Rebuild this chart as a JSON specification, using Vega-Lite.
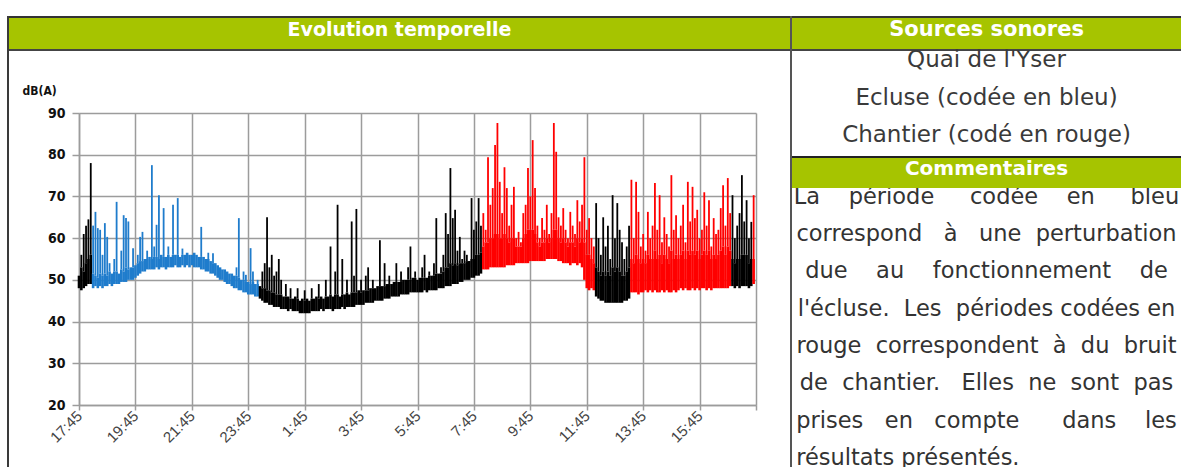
{
"$schema":"https://vega.github.io/schema/vega-lite/v6.json",
"padding":{"left":7,"top":11,"right":0,"bottom":0},
"background":"white",
"spacing":0,
"bounds":"full",
"config":{
 "view":{"stroke":null},
 "axisX":{"grid":true,"gridColor":"#9c9c9c","gridWidth":1.5,"domainColor":"#9c9c9c","domainWidth":1.5,"tickColor":"#9c9c9c","tickWidth":1.5,"tickSize":5,"labelFont":"Liberation Sans","labelFontSize":15,"labelColor":"#444444","labelAngle":-45,"labelAlign":"right","labelBaseline":"middle","labelPadding":3,"labelFlush":false,"labelOverlap":false},
 "axisY":{"grid":true,"gridColor":"#9c9c9c","gridWidth":1.5,"domainColor":"#9c9c9c","domainWidth":1.5,"tickColor":"#9c9c9c","tickWidth":1.5,"tickSize":7,"labelFont":"'Liberation Sans Narrow','DejaVu Sans Condensed','Liberation Sans'","labelFontWeight":"bold","labelFontSize":14,"labelColor":"#111111","labelPadding":7,"titleFont":"'Liberation Sans Narrow','DejaVu Sans Condensed','Liberation Sans'","titleFontWeight":"bold","titleFontSize":12,"titleColor":"#111111","titleAngle":0,"titleAlign":"left","titleBaseline":"middle","titleX":-57,"titleY":-23}
},
"hconcat":[
 {"width":2,"height":456,"data":{"values":[{}]},"mark":"text","view":{"fill":"#3a3a3a"}},
 {"spacing":0,"bounds":"flush","vconcat":[
   {"width":781,"height":2,"data":{"values":[{}]},"mark":"text","view":{"fill":"#333333"}},
   {"width":781,"height":31,"data":{"values":[{"t":"Evolution temporelle"}]},"view":{"fill":"#a6c400"},
    "mark":{"type":"text","color":"white","font":"DejaVu Sans","fontWeight":"bold","fontSize":19,"dy":-4},
    "encoding":{"text":{"field":"t"}}},
   {"width":781,"height":2,"data":{"values":[{}]},"mark":"text","view":{"fill":"#444444"}},
   {"width":781,"height":62,"data":{"values":[{}]},"mark":"text"},
   {"spacing":0,"bounds":"flush","hconcat":[
     {"width":70,"height":1,"data":{"values":[{}]},"mark":"text"},
     {"width":677,"height":292,
        "data":{"values":[
{"i":0,"l":48,"h":51,"s":"n"},{"i":1,"l":47.5,"h":53,"p":56,"s":"n"},{"i":2,"l":48,"h":52,"p":61,"s":"n"},{"i":3,"l":48.5,"h":54,"p":63,"s":"n"},{"i":4,"l":49,"h":55,"p":64.5,"s":"n"},{"i":5,"l":49,"h":56,"p":78,"s":"n"},
{"i":6,"l":48,"h":51.5,"p":63,"s":"e"},{"i":7,"l":48.5,"h":51,"p":66.3,"s":"e"},{"i":8,"l":48,"h":50.5,"p":62.4,"s":"e"},{"i":9,"l":48.5,"h":51.5,"p":62,"s":"e"},{"i":10,"l":48,"h":51,"p":56,"s":"e"},{"i":11,"l":48.5,"h":51.5,"p":63.6,"s":"e"},{"i":12,"l":48.5,"h":51,"p":60.3,"s":"e"},{"i":13,"l":49,"h":52,"p":54,"s":"e"},{"i":14,"l":48.5,"h":51.5,"s":"e"},{"i":15,"l":49,"h":52,"p":55,"s":"e"},
{"i":16,"l":49,"h":52,"p":68.7,"s":"e"},{"i":17,"l":49,"h":51.5,"s":"e"},{"i":18,"l":49.5,"h":52.5,"p":57,"s":"e"},{"i":19,"l":49.5,"h":52,"p":65.5,"s":"e"},{"i":20,"l":49.5,"h":53,"p":64.8,"s":"e"},{"i":21,"l":50,"h":52.5,"p":64,"s":"e"},{"i":22,"l":50,"h":53,"s":"e"},{"i":23,"l":50,"h":53,"p":57.6,"s":"e"},{"i":24,"l":50.5,"h":53.5,"s":"e"},{"i":25,"l":51,"h":54,"p":56,"s":"e"},
{"i":26,"l":51.5,"h":54.5,"p":60.3,"s":"e"},{"i":27,"l":52,"h":54.5,"p":61.5,"s":"e"},{"i":28,"l":52,"h":55,"s":"e"},{"i":29,"l":52.5,"h":55,"p":57,"s":"e"},{"i":30,"l":52.5,"h":55.5,"s":"e"},{"i":31,"l":52.5,"h":55,"p":77.5,"s":"e"},{"i":32,"l":52.5,"h":55.5,"p":58,"s":"e"},{"i":33,"l":53,"h":55.5,"p":63.2,"s":"e"},{"i":34,"l":52.5,"h":55,"p":70.3,"s":"e"},{"i":35,"l":53,"h":56,"s":"e"},
{"i":36,"l":53,"h":55.5,"p":67.2,"s":"e"},{"i":37,"l":52.5,"h":55.5,"s":"e"},{"i":38,"l":53,"h":56,"p":58,"s":"e"},{"i":39,"l":53,"h":55.5,"s":"e"},{"i":40,"l":53,"h":56,"p":68,"s":"e"},{"i":41,"l":53.5,"h":56,"s":"e"},{"i":42,"l":53,"h":56,"p":69.6,"s":"e"},{"i":43,"l":53,"h":55.5,"s":"e"},{"i":44,"l":53.5,"h":56,"p":57.5,"s":"e"},{"i":45,"l":53,"h":56,"s":"e"},
{"i":46,"l":53.5,"h":56.5,"s":"e"},{"i":47,"l":53,"h":56,"s":"e"},{"i":48,"l":53.5,"h":56,"s":"e"},{"i":49,"l":53,"h":56.5,"s":"e"},{"i":50,"l":53,"h":56,"s":"e"},{"i":51,"l":53,"h":55.5,"s":"e"},{"i":52,"l":52.5,"h":55.5,"p":62.7,"s":"e"},{"i":53,"l":52.5,"h":55.5,"s":"e"},{"i":54,"l":52,"h":55,"s":"e"},{"i":55,"l":52,"h":55,"p":56.5,"s":"e"},
{"i":56,"l":51.5,"h":54.5,"s":"e"},{"i":57,"l":51.5,"h":54,"p":56.4,"s":"e"},{"i":58,"l":51,"h":54,"s":"e"},{"i":59,"l":50.5,"h":53.5,"s":"e"},{"i":60,"l":50,"h":53,"s":"e"},{"i":61,"l":50,"h":52.5,"s":"e"},{"i":62,"l":49.5,"h":52.5,"s":"e"},{"i":63,"l":49,"h":52,"s":"e"},{"i":64,"l":49,"h":51.5,"s":"e"},{"i":65,"l":48.5,"h":51.5,"s":"e"},
{"i":66,"l":48,"h":51,"s":"e"},{"i":67,"l":48,"h":51,"p":53,"s":"e"},{"i":68,"l":47.5,"h":50.5,"p":64.8,"s":"e"},{"i":69,"l":47.5,"h":50,"s":"e"},{"i":70,"l":47,"h":50,"p":52,"s":"e"},{"i":71,"l":47,"h":49.5,"p":51.2,"s":"e"},{"i":72,"l":46.5,"h":49.5,"s":"e"},{"i":73,"l":46.5,"h":49,"p":57.6,"s":"e"},{"i":74,"l":46.5,"h":49.5,"p":52,"s":"e"},{"i":75,"l":46,"h":49,"s":"e"},{"i":76,"l":46,"h":49,"p":50,"s":"e"},
{"i":77,"l":45.5,"h":48.5,"s":"n"},{"i":78,"l":45,"h":48,"p":52,"s":"n"},{"i":79,"l":44.5,"h":48,"p":54,"s":"n"},{"i":80,"l":44.5,"h":47.5,"p":65,"s":"n"},{"i":81,"l":44,"h":47.5,"p":53,"s":"n"},{"i":82,"l":44,"h":47,"p":56,"s":"n"},{"i":83,"l":43.5,"h":47,"p":51,"s":"n"},{"i":84,"l":43.5,"h":46.5,"p":52,"s":"n"},{"i":85,"l":43.5,"h":46.5,"p":55,"s":"n"},
{"i":86,"l":43,"h":46.5,"p":50,"s":"n"},{"i":87,"l":43,"h":46,"s":"n"},{"i":88,"l":43,"h":46,"p":49,"s":"n"},{"i":89,"l":42.5,"h":46,"s":"n"},{"i":90,"l":43,"h":45.5,"p":48,"s":"n"},{"i":91,"l":42.5,"h":45.5,"s":"n"},{"i":92,"l":42.5,"h":46,"s":"n"},{"i":93,"l":42.5,"h":45.5,"p":48,"s":"n"},{"i":94,"l":42,"h":45,"s":"n"},{"i":95,"l":42,"h":45.5,"s":"n"},
{"i":96,"l":42,"h":45,"p":47.5,"s":"n"},{"i":97,"l":42,"h":45.5,"s":"n"},{"i":98,"l":42,"h":45,"s":"n"},{"i":99,"l":42.5,"h":45.5,"p":48,"s":"n"},{"i":100,"l":42.5,"h":45.5,"s":"n"},{"i":101,"l":42.5,"h":46,"s":"n"},{"i":102,"l":42.5,"h":45.5,"p":49,"s":"n"},{"i":103,"l":43,"h":46,"s":"n"},{"i":104,"l":42.5,"h":45.5,"s":"n"},{"i":105,"l":43,"h":46,"p":50,"s":"n"},
{"i":106,"l":43,"h":46,"s":"n"},{"i":107,"l":43,"h":46.5,"p":58,"s":"n"},{"i":108,"l":42.5,"h":46,"s":"n"},{"i":109,"l":43,"h":46.5,"p":52,"s":"n"},{"i":110,"l":43,"h":46.5,"p":68,"s":"n"},{"i":111,"l":43,"h":46,"s":"n"},{"i":112,"l":43.5,"h":46.5,"p":55,"s":"n"},{"i":113,"l":43,"h":46.5,"s":"n"},{"i":114,"l":43.5,"h":47,"p":50,"s":"n"},{"i":115,"l":43.5,"h":46.5,"s":"n"},
{"i":116,"l":43.5,"h":47,"p":64,"s":"n"},{"i":117,"l":43.5,"h":47,"p":51,"s":"n"},{"i":118,"l":44,"h":47,"p":67,"s":"n"},{"i":119,"l":44,"h":47.5,"s":"n"},{"i":120,"l":44,"h":47,"p":50,"s":"n"},{"i":121,"l":44,"h":47.5,"s":"n"},{"i":122,"l":44.5,"h":47.5,"p":51,"s":"n"},{"i":123,"l":44.5,"h":47.5,"p":53,"s":"n"},{"i":124,"l":44.5,"h":48,"s":"n"},{"i":125,"l":44.5,"h":48,"p":50,"s":"n"},
{"i":126,"l":45,"h":48,"s":"n"},{"i":127,"l":45,"h":48.5,"s":"n"},{"i":128,"l":45,"h":48.5,"p":59.5,"s":"n"},{"i":129,"l":45,"h":48.5,"s":"n"},{"i":130,"l":45.5,"h":48.5,"p":54,"s":"n"},{"i":131,"l":45.5,"h":49,"s":"n"},{"i":132,"l":45.5,"h":49,"p":51,"s":"n"},{"i":133,"l":46,"h":49,"s":"n"},{"i":134,"l":46,"h":49.5,"s":"n"},{"i":135,"l":46,"h":49.5,"p":54,"s":"n"},
{"i":136,"l":46,"h":49.5,"s":"n"},{"i":137,"l":46.5,"h":49.5,"p":52,"s":"n"},{"i":138,"l":46.5,"h":50,"s":"n"},{"i":139,"l":46.5,"h":50,"s":"n"},{"i":140,"l":46.5,"h":50,"p":53,"s":"n"},{"i":141,"l":47,"h":50,"p":58,"s":"n"},{"i":142,"l":47,"h":50.5,"s":"n"},{"i":143,"l":47,"h":50.5,"p":52,"s":"n"},{"i":144,"l":47,"h":50,"s":"n"},{"i":145,"l":47,"h":50.5,"s":"n"},
{"i":146,"l":47,"h":50.5,"p":53,"s":"n"},{"i":147,"l":47.5,"h":50.5,"p":56,"s":"n"},{"i":148,"l":47,"h":50.5,"s":"n"},{"i":149,"l":47.5,"h":51,"p":52,"s":"n"},{"i":150,"l":47.5,"h":51,"s":"n"},{"i":151,"l":47.5,"h":51,"p":54,"s":"n"},{"i":152,"l":47.5,"h":51.5,"p":64.8,"s":"n"},{"i":153,"l":48,"h":51.5,"s":"n"},{"i":154,"l":48,"h":51.5,"p":53,"s":"n"},{"i":155,"l":48,"h":52,"p":56,"s":"n"},
{"i":156,"l":48.5,"h":53,"p":66,"s":"n"},{"i":157,"l":48.5,"h":53,"p":61,"s":"n"},{"i":158,"l":48.5,"h":54,"p":76.8,"s":"n"},{"i":159,"l":49,"h":53.5,"p":64.8,"s":"n"},{"i":160,"l":49,"h":54,"p":66.8,"s":"n"},{"i":161,"l":49,"h":53.5,"p":57,"s":"n"},{"i":162,"l":49.5,"h":54,"p":60.3,"s":"n"},{"i":163,"l":49.5,"h":54,"p":55,"s":"n"},{"i":164,"l":50,"h":54,"p":57,"s":"n"},{"i":165,"l":50,"h":54.5,"p":56,"s":"n"},
{"i":166,"l":50,"h":54.5,"p":53,"s":"n"},{"i":167,"l":50.5,"h":55,"p":69.6,"s":"n"},{"i":168,"l":50.5,"h":55,"p":62,"s":"n"},{"i":169,"l":51,"h":56,"p":64,"s":"n"},{"i":170,"l":51,"h":56,"p":69.6,"s":"n"},{"i":171,"l":51.5,"h":56.5,"p":63,"s":"n"},
{"i":172,"l":52.5,"h":58,"p":66,"s":"c"},{"i":173,"l":52.5,"h":59,"p":62,"s":"c"},{"i":174,"l":52.5,"h":59,"p":79.4,"s":"c"},{"i":175,"l":53,"h":60,"p":68,"s":"c"},{"i":176,"l":53,"h":60,"p":72,"s":"c"},{"i":177,"l":53,"h":61,"p":82.3,"s":"c"},{"i":178,"l":53,"h":61,"p":87.6,"s":"c"},{"i":179,"l":53,"h":60,"p":73.5,"s":"c"},{"i":180,"l":53,"h":60,"p":66,"s":"c"},{"i":181,"l":53,"h":61,"p":77,"s":"c"},
{"i":182,"l":53.5,"h":60,"p":72,"s":"c"},{"i":183,"l":53.5,"h":59,"p":63,"s":"c"},{"i":184,"l":53.5,"h":60,"p":68,"s":"c"},{"i":185,"l":53.5,"h":60,"p":72.3,"s":"c"},{"i":186,"l":54,"h":58,"p":60,"s":"c"},{"i":187,"l":54,"h":58,"p":61.5,"s":"c"},{"i":188,"l":54,"h":58,"p":59,"s":"c"},{"i":189,"l":54,"h":60,"p":66,"s":"c"},{"i":190,"l":54,"h":61,"p":68,"s":"c"},{"i":191,"l":54,"h":62,"p":76.8,"s":"c"},
{"i":192,"l":54.5,"h":62,"p":70,"s":"c"},{"i":193,"l":54.5,"h":62,"p":83.5,"s":"c"},{"i":194,"l":54.5,"h":61,"p":72,"s":"c"},{"i":195,"l":54.5,"h":59,"p":63,"s":"c"},{"i":196,"l":54.5,"h":58,"p":60,"s":"c"},{"i":197,"l":54.5,"h":59,"p":64.8,"s":"c"},{"i":198,"l":54.5,"h":59,"p":62,"s":"c"},{"i":199,"l":55,"h":60,"p":68,"s":"c"},{"i":200,"l":55,"h":59,"p":61,"s":"c"},{"i":201,"l":55,"h":60,"p":66,"s":"c"},
{"i":202,"l":55,"h":62,"p":87.6,"s":"c"},{"i":203,"l":55,"h":62,"p":80.7,"s":"c"},{"i":204,"l":54.5,"h":60,"p":65,"s":"c"},{"i":205,"l":54.5,"h":59,"p":63,"s":"c"},{"i":206,"l":54,"h":60,"p":67.2,"s":"c"},{"i":207,"l":54,"h":59,"p":62,"s":"c"},{"i":208,"l":54,"h":58,"p":60,"s":"c"},{"i":209,"l":53.5,"h":59,"p":66.3,"s":"c"},{"i":210,"l":54,"h":59,"p":63,"s":"c"},{"i":211,"l":54,"h":58,"p":61,"s":"c"},
{"i":212,"l":53.5,"h":60,"p":69.1,"s":"c"},{"i":213,"l":54,"h":59,"p":64,"s":"c"},{"i":214,"l":53,"h":60,"p":68,"s":"c"},{"i":215,"l":50,"h":59,"p":79.4,"s":"c"},{"i":216,"l":48,"h":56,"p":62,"s":"c"},{"i":217,"l":47.5,"h":56,"p":64.8,"s":"c"},{"i":218,"l":48,"h":55,"p":60,"s":"c"},{"i":219,"l":47.5,"h":54,"p":58,"s":"c"},
{"i":220,"l":46,"h":53,"p":68.4,"s":"n"},{"i":221,"l":45.5,"h":52,"p":60,"s":"n"},{"i":222,"l":45,"h":51,"p":56,"s":"n"},{"i":223,"l":45,"h":52,"p":65,"s":"n"},{"i":224,"l":44.5,"h":51,"p":58,"s":"n"},{"i":225,"l":44.5,"h":52,"p":63,"s":"n"},{"i":226,"l":44.5,"h":51,"p":55,"s":"n"},{"i":227,"l":44.5,"h":53,"p":70.3,"s":"n"},{"i":228,"l":44.5,"h":52,"p":60,"s":"n"},{"i":229,"l":44.5,"h":53,"p":68.4,"s":"n"},
{"i":230,"l":44.5,"h":52,"p":62,"s":"n"},{"i":231,"l":44.5,"h":51,"p":59,"s":"n"},{"i":232,"l":45,"h":51,"p":55,"s":"n"},{"i":233,"l":45,"h":52,"p":58,"s":"n"},{"i":234,"l":45.5,"h":53,"p":63,"s":"n"},
{"i":235,"l":47,"h":55,"p":74,"s":"c"},{"i":236,"l":47,"h":54,"p":60,"s":"c"},{"i":237,"l":47,"h":56,"p":73.5,"s":"c"},{"i":238,"l":46.5,"h":55,"p":66.3,"s":"c"},{"i":239,"l":47,"h":54,"p":58,"s":"c"},{"i":240,"l":47,"h":55,"p":61,"s":"c"},{"i":241,"l":47.5,"h":54,"p":57,"s":"c"},{"i":242,"l":47,"h":56,"p":66.3,"s":"c"},{"i":243,"l":47.5,"h":55,"p":60,"s":"c"},{"i":244,"l":47,"h":55,"p":63,"s":"c"},
{"i":245,"l":47.5,"h":57,"p":73.2,"s":"c"},{"i":246,"l":47,"h":55,"p":62,"s":"c"},{"i":247,"l":47,"h":56,"p":70.3,"s":"c"},{"i":248,"l":47.5,"h":54,"p":59,"s":"c"},{"i":249,"l":47,"h":56,"p":65,"s":"c"},{"i":250,"l":47.5,"h":55,"p":61,"s":"c"},{"i":251,"l":47,"h":54,"p":58,"s":"c"},{"i":252,"l":47,"h":57,"p":75.1,"s":"c"},{"i":253,"l":47.5,"h":55,"p":62,"s":"c"},{"i":254,"l":47,"h":56,"p":65.5,"s":"c"},
{"i":255,"l":47.5,"h":55,"p":60,"s":"c"},{"i":256,"l":48,"h":56,"p":63,"s":"c"},{"i":257,"l":47.5,"h":57,"p":68,"s":"c"},{"i":258,"l":48,"h":55,"p":59,"s":"c"},{"i":259,"l":47.5,"h":57,"p":73.5,"s":"c"},{"i":260,"l":47.5,"h":56,"p":64,"s":"c"},{"i":261,"l":48,"h":57,"p":72.3,"s":"c"},{"i":262,"l":47.5,"h":56,"p":64.8,"s":"c"},{"i":263,"l":48,"h":57,"p":66.8,"s":"c"},{"i":264,"l":47.5,"h":55,"p":60,"s":"c"},
{"i":265,"l":48,"h":56,"p":62,"s":"c"},{"i":266,"l":48,"h":57,"p":71,"s":"c"},{"i":267,"l":47.5,"h":56,"p":63,"s":"c"},{"i":268,"l":48,"h":57,"p":69.1,"s":"c"},{"i":269,"l":47.5,"h":55,"p":58,"s":"c"},{"i":270,"l":48,"h":56,"p":64.8,"s":"c"},{"i":271,"l":48,"h":55,"p":61,"s":"c"},{"i":272,"l":48,"h":56,"p":62,"s":"c"},{"i":273,"l":48,"h":57,"p":67.2,"s":"c"},{"i":274,"l":48,"h":58,"p":72.7,"s":"c"},
{"i":275,"l":48,"h":56,"p":63,"s":"c"},{"i":276,"l":48,"h":58,"p":74.4,"s":"c"},{"i":277,"l":48.5,"h":57,"p":66,"s":"c"},
{"i":278,"l":48.5,"h":55,"p":70.3,"s":"n"},{"i":279,"l":48,"h":54,"p":60,"s":"n"},{"i":280,"l":48.5,"h":55,"p":63,"s":"n"},{"i":281,"l":48,"h":55,"p":66,"s":"n"},{"i":282,"l":48.5,"h":56,"p":75.1,"s":"n"},{"i":283,"l":48.5,"h":56,"p":64,"s":"n"},{"i":284,"l":48.5,"h":56,"p":69.1,"s":"n"},{"i":285,"l":48,"h":54,"p":60,"s":"n"},{"i":286,"l":48.5,"h":55,"p":63.9,"s":"n"},
{"i":287,"l":49,"h":55,"p":70.3,"s":"c"}
        ]},
        "encoding":{
          "x":{"field":"i","type":"quantitative","scale":{"domain":[0,288],"nice":false,"zero":false},
               "axis":{"title":null,"values":[0,24,48,72,96,120,144,168,192,216,240,264,288],
                       "labelExpr":"datum.value >= 288 ? '' : ((floor(datum.value/12) + 17) % 24) + ':45'"}},
          "color":{"field":"s","type":"nominal","scale":{"domain":["n","e","c"],"range":["#000000","#1f7ccc","#ff0000"]},"legend":null}
        },
        "layer":[
          {"mark":{"type":"rule","strokeWidth":2.6},
           "encoding":{"y":{"field":"l","type":"quantitative","title":"dB(A)","scale":{"domain":[20,90],"nice":false,"zero":false},"axis":{"values":[20,30,40,50,60,70,80,90]}},
                       "y2":{"field":"h"}}},
          {"transform":[{"filter":"isValid(datum.p)"}],
           "mark":{"type":"rule","strokeWidth":1.8},
           "encoding":{"y":{"field":"h","type":"quantitative","title":"dB(A)","axis":{"values":[20,30,40,50,60,70,80,90]}},
                       "y2":{"field":"p"}}}
        ]},
     {"width":34,"height":1,"data":{"values":[{}]},"mark":"text"}
   ]}
 ]},
 {"width":2,"height":456,"data":{"values":[{}]},"mark":"text","view":{"fill":"#555555"}},
 {"spacing":0,"bounds":"flush","vconcat":[
   {"width":389,"height":2,"data":{"values":[{}]},"mark":"text","view":{"fill":"#333333"}},
   {"width":389,"height":31,"data":{"values":[{"t":"Sources sonores"}]},"view":{"fill":"#a6c400"},
    "mark":{"type":"text","color":"white","font":"DejaVu Sans","fontWeight":"bold","fontSize":21,"dy":-4},
    "encoding":{"text":{"field":"t"}}},
   {"width":389,"height":2,"data":{"values":[{}]},"mark":"text","view":{"fill":"#444444"}},
   {"width":389,"height":105,
    "data":{"values":[{"n":1,"t":"Quai de l'Yser"},{"n":2,"t":"Ecluse (codée en bleu)"},{"n":3,"t":"Chantier (codé en rouge)"}]},
    "mark":{"type":"text","color":"#3a3a3a","font":"DejaVu Sans","fontSize":23},
    "encoding":{"y":{"field":"n","type":"quantitative","scale":{"domain":[0.747,3.547],"reverse":true,"nice":false,"zero":false},"axis":null},
                "text":{"field":"t"}}},
   {"width":389,"height":2,"data":{"values":[{}]},"mark":"text","view":{"fill":"#222222"}},
   {"width":389,"height":30,"data":{"values":[{"t":"Commentaires"}]},"view":{"fill":"#a6c400"},
    "mark":{"type":"text","color":"white","font":"DejaVu Sans","fontWeight":"bold","fontSize":20,"dy":-4},
    "encoding":{"text":{"field":"t"}}},
   {"width":389,"height":284,
    "data":{"values":[
      {"n":1,"t":"La\u00a0\u00a0\u00a0\u00a0période\u00a0\u00a0\u00a0\u00a0\u00a0codée\u00a0\u00a0\u00a0\u00a0en\u00a0\u00a0\u00a0\u00a0\u00a0bleu"},
      {"n":2,"t":"correspond\u00a0\u00a0\u00a0à\u00a0\u00a0\u00a0une\u00a0\u00a0perturbation"},
      {"n":3,"t":"due\u00a0\u00a0\u00a0\u00a0au\u00a0\u00a0\u00a0\u00a0fonctionnement\u00a0\u00a0\u00a0\u00a0de"},
      {"n":4,"t":"l'écluse.\u00a0\u00a0Les\u00a0\u00a0périodes\u00a0codées\u00a0en"},
      {"n":5,"t":"rouge\u00a0\u00a0correspondent\u00a0\u00a0à\u00a0\u00a0du\u00a0\u00a0bruit"},
      {"n":6,"t":"de\u00a0\u00a0chantier.\u00a0\u00a0\u00a0Elles\u00a0\u00a0ne\u00a0\u00a0sont\u00a0\u00a0pas"},
      {"n":7,"t":"prises\u00a0\u00a0\u00a0en\u00a0\u00a0\u00a0compte\u00a0\u00a0\u00a0\u00a0\u00a0\u00a0dans\u00a0\u00a0\u00a0\u00a0les"},
      {"n":8,"t":"résultats présentés.\u00a0\u00a0\u00a0\u00a0\u00a0\u00a0\u00a0\u00a0\u00a0\u00a0\u00a0\u00a0\u00a0\u00a0\u00a0\u00a0\u00a0\u00a0\u00a0\u00a0\u00a0\u00a0\u2060"}
    ]},
    "mark":{"type":"text","color":"#333333","font":"DejaVu Sans","fontSize":22.5,"clip":true},
    "encoding":{"y":{"field":"n","type":"quantitative","scale":{"domain":[0.766,8.38],"reverse":true,"nice":false,"zero":false},"axis":null},
                "text":{"field":"t"}}}
 ]}
]
}
